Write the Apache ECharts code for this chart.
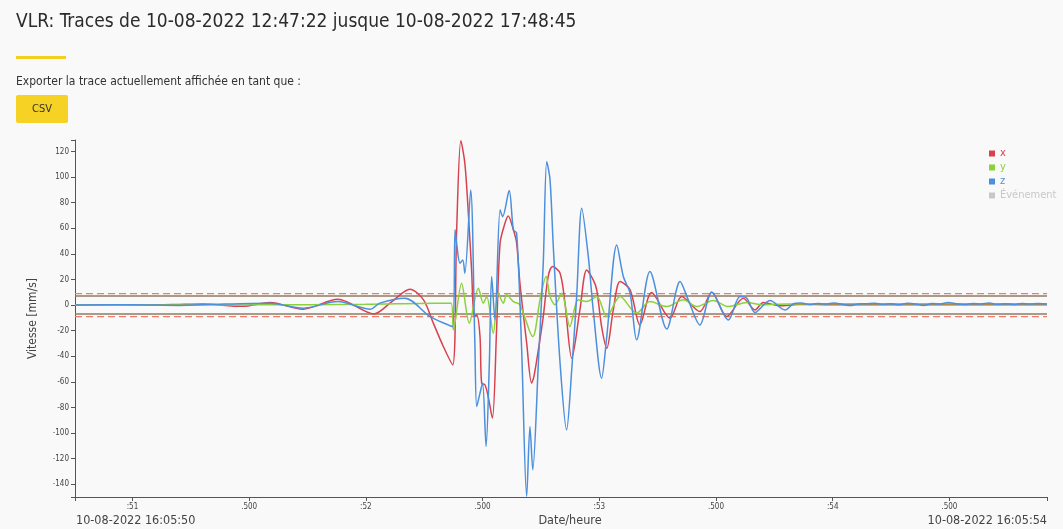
<!DOCTYPE html>
<html><head><meta charset="utf-8">
<script src="https://cdn.jsdelivr.net/npm/echarts@6/dist/echarts.min.js"></script>
<style>html,body{margin:0;padding:0;background:#f9f9f9;}#c{width:1063px;height:529px;}</style>
</head><body><div id="c"></div>
<script>
// ---- data (time in seconds after 10-08-2022 16:05:50, velocity in mm/s) ----
const titleText = 'VLR: Traces de 10-08-2022 12:47:22 jusque 10-08-2022 17:48:45';
const exportText = 'Exporter la trace actuellement affichée en tant que :';
const buttonText = 'CSV';
const seriesNames = ['x', 'y', 'z', 'Événement'];
const xRange = [0.754, 4.918];
const yRange = [-150, 129];
const xTickValues = [1, 1.5, 2, 2.5, 3, 3.5, 4, 4.5];
const xTickLabels = [':51', '.500', ':52', '.500', ':53', '.500', ':54', '.500'];
const xExtentLabels = ['10-08-2022 16:05:50', '10-08-2022 16:05:54'];
const xAxisTitle = 'Date/heure';
const yTickValues = [-140, -120, -100, -80, -60, -40, -20, 0, 20, 40, 60, 80, 100, 120];
const yAxisTitle = 'Vitesse [mm/s]';
const thresholdSolid = [7, -7];
const thresholdDashed = [9, -9];

const traceX = [[0.754,0],[0.90,0.2],[1.05,0.1],[1.18,0.4],[1.30,0.9],[1.47,-1.0],[1.59,2.0],[1.73,-3.2],[1.88,4.6],[2.035,-6.9],[2.11,2.5],[2.189,12.4],[2.247,4.1],[2.289,-14.1],[2.332,-32.4],[2.372,-46.7],[2.389,58.8],[2.407,128.5],[2.424,110.9],[2.439,71.8],[2.453,27.5],[2.464,-9.0],[2.475,-7.7],[2.489,-24.6],[2.496,-61.0],[2.510,-62.3],[2.524,-71.5],[2.542,-88.4],[2.560,-19.4],[2.575,48.4],[2.596,64.0],[2.610,69.7],[2.632,58.8],[2.646,48.4],[2.660,17.1],[2.689,-29.8],[2.710,-61.0],[2.720,-55.9],[2.739,-35.0],[2.760,-9.0],[2.781,22.3],[2.800,30.1],[2.832,24.9],[2.853,1.5],[2.882,-41.5],[2.917,-3.8],[2.946,27.5],[2.974,19.7],[2.989,11.9],[3.010,-16.8],[3.032,-33.7],[3.060,-3.8],[3.089,18.4],[3.132,11.9],[3.174,-15.5],[3.224,9.8],[3.303,-10.2],[3.353,6.6],[3.431,-5.1],[3.482,10.1],[3.546,-9.0],[3.617,5.4],[3.667,-3.8],[3.703,2.0],[3.774,-0.6],[3.85,0.5],[4.0,0.2],[4.3,0.4],[4.6,0.2],[4.918,0.3]];

const traceY = [[0.754,0],[1.5,0.2],[2.0,0.6],[2.30,1.5],[2.365,1.5],[2.375,-19.4],[2.410,17.1],[2.443,-14.1],[2.482,13.2],[2.503,1.5],[2.518,6.6],[2.546,-22.0],[2.567,9.3],[2.589,1.5],[2.603,8.0],[2.632,2.7],[2.660,0.2],[2.715,-24.6],[2.746,4.1],[2.772,22.3],[2.789,6.6],[2.810,0.2],[2.839,9.3],[2.874,-16.8],[2.910,4.1],[2.946,2.7],[2.989,6.6],[3.032,-9.0],[3.089,6.6],[3.160,-6.3],[3.217,2.7],[3.289,-1.2],[3.360,4.1],[3.417,-1.2],[3.488,3.5],[3.553,-1.2],[3.632,2.0],[3.703,0.2],[3.802,0.9],[4.2,1.0],[4.918,1.0]];

const traceZ = [[0.754,0],[1.0,0.3],[1.2,-0.3],[1.35,0.6],[1.59,1.5],[1.73,-2.4],[1.88,2.7],[2.020,-3.2],[2.060,1.5],[2.167,5.4],[2.275,-9.0],[2.372,-16.8],[2.382,58.8],[2.389,48.0],[2.403,32.7],[2.415,35.3],[2.424,24.9],[2.449,90.0],[2.467,-29.8],[2.475,-79.3],[2.489,-68.8],[2.500,-61.0],[2.515,-110.5],[2.529,-45.4],[2.539,22.3],[2.553,-11.6],[2.575,74.4],[2.586,69.1],[2.614,89.5],[2.632,58.8],[2.646,56.2],[2.667,-32.4],[2.689,-149.5],[2.703,-94.9],[2.715,-128.8],[2.739,-45.4],[2.760,32.7],[2.775,112.1],[2.789,97.8],[2.803,45.7],[2.832,-45.4],[2.860,-97.5],[2.882,-50.6],[2.903,6.6],[2.925,75.7],[2.953,37.9],[2.974,-3.8],[3.010,-57.1],[3.032,-24.6],[3.075,47.0],[3.103,22.3],[3.132,9.3],[3.160,-27.2],[3.217,26.2],[3.289,-18.8],[3.346,18.4],[3.381,4.1],[3.431,-15.5],[3.482,10.1],[3.553,-11.6],[3.603,6.6],[3.632,5.4],[3.667,-5.9],[3.731,3.5],[3.796,-3.8],[3.83,0.8],[3.865,1.6],[3.90,0.4],[3.935,1.2],[3.97,0.9],[4.005,1.7],[4.04,0.6],[4.075,-0.4],[4.11,0.9],[4.145,1.0],[4.18,1.5],[4.215,0.7],[4.25,1.1],[4.285,0.3],[4.32,1.4],[4.355,0.9],[4.39,-0.3],[4.425,1.2],[4.46,0.8],[4.495,2.0],[4.53,1.0],[4.565,0.5],[4.60,1.3],[4.635,0.9],[4.67,1.6],[4.705,0.6],[4.74,1.1],[4.775,0.4],[4.81,1.3],[4.845,0.8],[4.88,1.2],[4.918,0.9]];

// ---- styles ----
const FONT = '"Liberation Sans Narrow","DejaVu Sans Condensed","Roboto","Noto Sans",sans-serif';
const colors = ['#d8424f', '#8bd13b', '#4c8fdc', '#c8c8c8'];
const textColor = '#333';

const chart = echarts.init(document.getElementById('c'), null, {renderer: 'canvas'});
const traces = [traceX, traceY, traceZ, []];

function thresholdSeries(v, style) {
  return {
    name: 'seuil ' + v, type: 'line', silent: true, showSymbol: false, z: 1,
    data: [[xRange[0], v], [xRange[1], v]],
    lineStyle: style, itemStyle: {color: style.color}
  };
}

const option = {
  backgroundColor: '#f9f9f9',
  animation: false,
  textStyle: {fontFamily: FONT},
  title: {text: titleText, left: 11, top: 8, textStyle: {fontFamily: FONT, fontSize: 19, fontWeight: 'normal', color: '#2b2b2b'}},
  legend: {
    orient: 'vertical', left: 984, top: 143, itemWidth: 6, itemHeight: 6, itemGap: 3, icon: 'rect',
    textStyle: {fontFamily: FONT, fontSize: 11},
    data: seriesNames.map((n, i) => ({name: n, textStyle: {color: colors[i]}}))
  },
  grid: {left: 75, right: 16, top: 140, bottom: 32},
  xAxis: {
    type: 'value', min: xRange[0], max: xRange[1],
    axisLine: {onZero: false, lineStyle: {color: '#555', width: 1}},
    axisTick: {show: true, length: 4, lineStyle: {color: '#555'}, customValues: [xRange[0]].concat(xTickValues, [xRange[1]])},
    axisLabel: {customValues: xTickValues, fontSize: 8, color: '#444', margin: 6, fontFamily: FONT,
      formatter: v => { const i = xTickValues.indexOf(v); return i >= 0 ? xTickLabels[i] : ''; }},
    splitLine: {show: false}
  },
  yAxis: {
    type: 'value', min: yRange[0], max: yRange[1],
    axisLine: {show: true, lineStyle: {color: '#555', width: 1}},
    axisTick: {show: true, length: 4, lineStyle: {color: '#555'}, customValues: [yRange[0]].concat(yTickValues, [yRange[1]])},
    axisLabel: {customValues: yTickValues, fontSize: 8, color: '#444', margin: 6, fontFamily: FONT},
    splitLine: {show: false},
    name: yAxisTitle, nameLocation: 'middle', nameGap: 36,
    nameTextStyle: {fontSize: 12, color: '#444', fontFamily: FONT}
  },
  series: thresholdSolid.map(v => thresholdSeries(v, {color: '#8c7b62', width: 1.5, type: 'solid'}))
    .concat(thresholdDashed.map(v => thresholdSeries(v, {color: '#f07a6c', width: 1.2, type: [7, 4]})))
    .concat(seriesNames.map((n, i) => ({
      name: n, type: 'line', data: traces[i], showSymbol: false, smooth: 0.3,
      z: 2 + i, color: colors[i],
      lineStyle: {width: 1.5, color: colors[i]},
      itemStyle: {color: colors[i]}
    }))),
  graphic: [
    {type: 'rect', shape: {x: 16, y: 56, width: 50, height: 3}, style: {fill: '#f3cf22'}},
    {type: 'text', x: 16, y: 82, style: {text: exportText, fontSize: 12, fontFamily: FONT, fill: textColor, verticalAlign: 'middle'}},
    {type: 'rect', shape: {x: 16, y: 95, width: 52, height: 28, r: 2}, style: {fill: '#f5d224'}},
    {type: 'text', x: 42, y: 109, style: {text: buttonText, fontSize: 11, fontFamily: FONT, fill: textColor, align: 'center', verticalAlign: 'middle'}},
    {type: 'text', x: 76, y: 521, style: {text: xExtentLabels[0], fontSize: 12.5, fontFamily: FONT, fill: '#444', align: 'left', verticalAlign: 'middle'}},
    {type: 'text', x: 1047, y: 521, style: {text: xExtentLabels[1], fontSize: 12.5, fontFamily: FONT, fill: '#444', align: 'right', verticalAlign: 'middle'}},
    {type: 'text', x: 570, y: 521, style: {text: xAxisTitle, fontSize: 12.5, fontFamily: FONT, fill: '#444', align: 'center', verticalAlign: 'middle'}}
  ]
};
chart.setOption(option);
</script>
</body></html>
